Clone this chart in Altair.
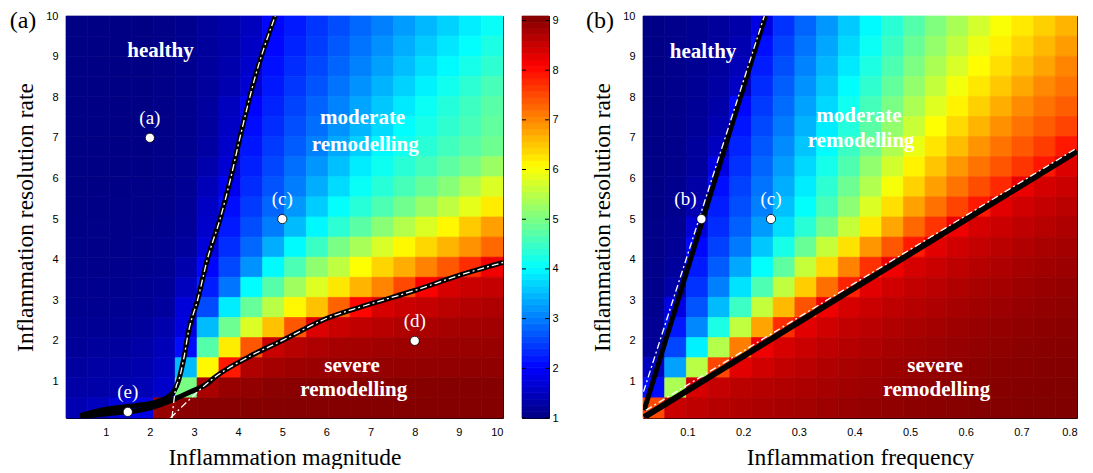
import altair as alt
import numpy as np
import pandas as pd

# ---------------- data ----------------
A_X_RANGE = [0.1, 10.0]
A_Y_RANGE = [0.1, 10.0]
B_X_RANGE = [0.02, 0.8]
B_Y_RANGE = [0.1, 10.0]

# panel (a): heat-map values, rows from top (y~9.75) to bottom (y~0.35), 20 columns x=0.1..10
a_rows = [
    [1.03,1.03,1.03,1.03,1.06,1.12,1.22,1.32,1.50,2.05,2.21,2.42,2.62,2.83,3.03,3.25,3.47,3.68,3.90,4.10],
    [1.03,1.03,1.03,1.03,1.06,1.12,1.22,1.32,1.55,2.06,2.28,2.49,2.71,2.92,3.15,3.38,3.61,3.84,4.05,4.25],
    [1.03,1.03,1.03,1.03,1.06,1.12,1.22,1.35,1.60,2.13,2.36,2.58,2.81,3.04,3.28,3.52,3.77,4.00,4.20,4.40],
    [1.03,1.03,1.03,1.03,1.06,1.12,1.22,1.38,1.65,2.20,2.44,2.68,2.92,3.17,3.43,3.68,3.93,4.17,4.38,4.60],
    [1.03,1.03,1.03,1.03,1.06,1.12,1.24,1.50,2.03,2.28,2.54,2.79,3.05,3.32,3.60,3.87,4.11,4.32,4.52,4.73],
    [1.03,1.03,1.03,1.03,1.06,1.12,1.25,1.55,2.10,2.36,2.63,2.89,3.17,3.46,3.75,4.03,4.22,4.41,4.60,4.80],
    [1.03,1.03,1.03,1.04,1.07,1.13,1.27,1.60,2.18,2.46,2.74,3.03,3.35,3.66,3.99,4.17,4.36,4.54,4.73,4.91],
    [1.03,1.03,1.04,1.05,1.08,1.14,1.35,1.65,2.26,2.56,2.88,3.20,3.54,3.89,4.14,4.35,4.56,4.77,4.98,5.26],
    [1.03,1.04,1.05,1.06,1.09,1.16,1.45,1.90,2.35,2.67,3.00,3.38,3.76,4.09,4.34,4.59,4.83,5.10,5.44,5.77],
    [1.04,1.05,1.06,1.07,1.10,1.18,1.55,2.11,2.47,2.82,3.22,3.64,4.05,4.34,4.64,4.93,5.23,5.54,5.85,6.20],
    [1.05,1.06,1.07,1.08,1.12,1.20,1.60,2.21,2.61,3.00,3.50,3.99,4.38,4.75,5.12,5.45,5.78,6.11,6.47,6.82],
    [1.06,1.07,1.08,1.10,1.14,1.25,1.70,2.37,2.83,3.38,4.00,4.49,4.99,5.37,5.75,6.10,6.37,6.64,6.92,7.25],
    [1.08,1.09,1.10,1.12,1.17,1.35,2.04,2.58,3.18,4.00,4.63,5.17,5.54,6.05,6.39,6.71,7.05,7.38,7.73,8.20],
    [1.10,1.11,1.12,1.15,1.20,1.50,2.24,2.94,4.02,4.71,5.30,5.79,6.24,6.65,7.03,7.50,8.10,8.40,8.50,8.55],
    [1.12,1.13,1.15,1.18,1.25,1.70,2.60,3.89,4.84,5.50,6.11,6.54,7.29,8.05,8.40,8.50,8.55,8.62,8.68,8.72],
    [1.15,1.16,1.18,1.22,1.35,1.75,3.50,4.90,5.77,6.54,7.40,8.35,8.50,8.58,8.64,8.70,8.75,8.78,8.80,8.83],
    [1.20,1.22,1.25,1.30,1.45,2.10,4.70,6.20,7.40,8.50,8.65,8.72,8.78,8.80,8.83,8.85,8.87,8.88,8.89,8.90],
    [1.25,1.28,1.30,1.35,1.50,3.50,6.10,7.90,8.70,8.80,8.85,8.88,8.90,8.91,8.92,8.93,8.94,8.95,8.96,8.96],
    [1.30,1.33,1.36,1.42,1.60,5.00,8.75,8.90,8.95,9.00,9.01,9.02,9.02,9.03,9.03,9.04,9.04,9.05,9.05,9.05],
    [1.40,1.50,1.70,1.80,8.90,9.00,9.02,9.03,9.04,9.05,9.05,9.05,9.06,9.06,9.06,9.06,9.06,9.06,9.06,9.06],
]

# panel (b): heat-map values, rows from top to bottom, 20 columns x=0.02..0.8
b_rows = [
    [1.05,1.10,1.15,1.22,1.32,1.80,2.41,2.81,3.22,3.61,4.00,4.35,4.70,5.05,5.38,5.70,6.02,6.22,6.43,6.64],
    [1.05,1.10,1.15,1.22,1.38,2.12,2.53,2.93,3.33,3.73,4.12,4.49,4.86,5.21,5.56,5.90,6.16,6.38,6.61,6.83],
    [1.05,1.10,1.15,1.25,1.45,2.23,2.64,3.05,3.46,3.87,4.26,4.64,5.02,5.39,5.75,6.07,6.31,6.54,6.78,7.02],
    [1.05,1.10,1.17,1.28,1.55,2.35,2.76,3.17,3.60,4.02,4.41,4.81,5.20,5.59,5.97,6.24,6.49,6.74,6.99,7.16],
    [1.05,1.10,1.18,1.32,2.06,2.46,2.87,3.30,3.73,4.15,4.57,4.99,5.40,5.80,6.15,6.43,6.70,6.97,7.16,7.33],
    [1.05,1.10,1.20,1.40,2.17,2.58,2.98,3.43,3.88,4.31,4.75,5.19,5.63,6.05,6.35,6.65,6.94,7.16,7.35,7.55],
    [1.05,1.10,1.22,1.50,2.29,2.69,3.11,3.57,4.03,4.49,4.94,5.42,5.90,6.26,6.58,6.91,7.16,7.38,7.60,7.90],
    [1.05,1.10,1.25,1.80,2.40,2.81,3.25,3.73,4.20,4.66,5.18,5.69,6.15,6.52,6.88,7.17,7.41,7.66,7.91,8.35],
    [1.05,1.12,1.30,2.12,2.52,2.92,3.39,3.88,4.39,4.90,5.44,5.99,6.41,6.82,7.17,7.47,7.76,8.25,8.42,8.50],
    [1.05,1.12,1.40,2.23,2.63,3.03,3.54,4.06,4.60,5.15,5.77,6.30,6.79,7.18,7.54,7.89,8.30,8.45,8.55,8.62],
    [1.06,1.15,1.70,2.36,2.77,3.24,3.78,4.35,4.93,5.60,6.23,6.76,7.25,7.67,8.20,8.40,8.50,8.60,8.65,8.72],
    [1.07,1.18,2.07,2.53,2.99,3.60,4.21,4.86,5.60,6.28,6.89,7.39,7.87,8.30,8.45,8.55,8.62,8.70,8.76,8.80],
    [1.08,1.22,2.22,2.74,3.35,4.05,4.78,5.60,6.36,7.04,7.69,8.20,8.40,8.50,8.60,8.66,8.72,8.78,8.83,8.87],
    [1.10,1.30,2.41,3.03,3.81,4.64,5.56,6.45,7.20,7.81,8.30,8.45,8.56,8.63,8.70,8.76,8.80,8.85,8.90,8.93],
    [1.12,1.80,2.68,3.50,4.50,5.59,6.60,7.42,8.20,8.40,8.50,8.60,8.66,8.72,8.78,8.83,8.87,8.91,8.94,8.97],
    [1.15,2.19,3.10,4.24,5.55,6.78,7.73,8.30,8.45,8.56,8.63,8.70,8.76,8.80,8.85,8.90,8.93,8.96,8.99,9.01],
    [1.20,2.56,3.92,5.46,7.09,8.20,8.40,8.50,8.60,8.66,8.72,8.78,8.83,8.87,8.91,8.94,8.97,9.00,9.02,9.04],
    [1.50,3.29,5.50,7.52,8.30,8.45,8.56,8.63,8.70,8.76,8.80,8.85,8.90,8.93,8.96,8.99,9.01,9.03,9.05,9.06],
    [2.10,5.40,8.40,8.55,8.62,8.66,8.70,8.74,8.78,8.83,8.87,8.91,8.94,8.97,9.00,9.02,9.04,9.06,9.07,9.08],
    [7.50,8.50,8.60,8.66,8.70,8.74,8.78,8.81,8.85,8.90,8.93,8.96,8.99,9.01,9.03,9.05,9.06,9.07,9.08,9.09],
]

# boundary curves, panel (a)
a_upper_x = [0.42, 0.80, 1.25, 1.78, 2.16, 2.38, 2.54, 2.65, 2.76, 2.88, 3.08, 3.30, 3.59, 3.83, 4.04, 4.38, 4.84]
a_upper_y = [0.16, 0.27, 0.35, 0.42, 0.50, 0.60, 0.75, 1.02, 1.52, 2.25, 3.00, 4.00, 5.00, 6.00, 7.00, 8.48, 10.0]
a_lower_x = [0.42, 1.00, 1.40, 1.71, 2.16, 2.54, 2.91, 3.29, 3.48, 4.23, 5.00, 6.00, 7.00, 8.00, 9.00, 10.0]
a_lower_y = [0.15, 0.20, 0.25, 0.28, 0.40, 0.56, 0.74, 0.94, 1.11, 1.60, 2.01, 2.55, 2.91, 3.24, 3.61, 3.93]
a_upper_approx_x = [2.50, 2.60, 2.65, 2.76, 2.88, 3.08, 3.30, 3.59, 3.83, 4.04, 4.38, 4.84]
a_upper_approx_y = [0.10, 0.90, 1.02, 1.52, 2.25, 3.00, 4.00, 5.00, 6.00, 7.00, 8.48, 10.0]
a_lower_approx_x = [2.47, 2.72, 3.48, 4.23, 5.00, 6.00, 7.00, 8.00, 9.00, 10.0]
a_lower_approx_y = [0.10, 0.37, 1.11, 1.60, 2.01, 2.55, 2.91, 3.24, 3.61, 3.93]

# boundary curves, panel (b)
b_upper_x = [0.022, 0.240]
b_upper_y = [0.29, 10.0]
b_lower_x = [0.022, 0.800]
b_lower_y = [0.12, 6.67]
b_upper_approx_x = [0.021, 0.238]
b_upper_approx_y = [0.75, 10.0]
b_lower_approx_x = [0.025, 0.800]
b_lower_approx_y = [0.29, 6.75]

# marked parameter points
a_pt_x = [2.0, 5.0, 8.0, 1.5]
a_pt_y = [7.0, 5.0, 2.0, 0.25]
a_pt_label = ["(a)", "(c)", "(d)", "(e)"]
b_pt_x = [0.125, 0.25]
b_pt_y = [5.0, 5.0]
b_pt_label = ["(b)", "(c)"]

# region names
a_reg_x = [2.24, 6.82, 6.88, 6.58, 6.62]
a_reg_y = [9.14, 7.49, 6.82, 1.38, 0.78]
b_reg_x = [0.128, 0.408, 0.412, 0.545, 0.548]
b_reg_y = [9.12, 7.54, 6.92, 1.38, 0.78]
reg_text = ["healthy", "moderate", "remodelling", "severe", "remodelling"]

a_xticks = [1, 2, 3, 4, 5, 6, 7, 8, 9, 10]
b_xticks = [0.1, 0.2, 0.3, 0.4, 0.5, 0.6, 0.7, 0.8]
yticks = [1, 2, 3, 4, 5, 6, 7, 8, 9, 10]
cbar_ticks = [1, 2, 3, 4, 5, 6, 7, 8, 9]
CBAR_RANGE = [1.0, 9.09]

# ---------------- styling ----------------
PW_A, PW_B, PH = 437, 434, 402
SERIF = "Liberation Serif"
SANS = "Liberation Sans"
YTITLE = "Inflammation resolution rate"

jet = alt.Scale(domain=[1.0, 2.011, 4.034, 6.056, 8.079, 9.09],
                range=["#000080", "#0000ff", "#00ffff", "#ffff00", "#ff0000", "#800000"],
                interpolate="rgb", clamp=True)


def grid_df(rows, xr, yr):
    nr, nc = len(rows), len(rows[0])
    xe = np.linspace(xr[0], xr[1], nc + 1)
    ye = np.linspace(yr[1], yr[0], nr + 1)
    recs = []
    for j, row in enumerate(rows):
        for i, v in enumerate(row):
            recs.append({"x0": xe[i], "x1": xe[i + 1], "y0": ye[j + 1], "y1": ye[j], "v": v})
    return pd.DataFrame(recs)


def panel(rows, xr, yr, xticks, xfmt, xtitle, ux, uy, lx, ly, uax, uay, lax, lay,
          px, py, plab, rx, ry, tag, width, lw_up, lw_lo, special_dx=None):
    xs_ = alt.Scale(domain=xr, nice=False, zero=False)
    ys_ = alt.Scale(domain=yr, nice=False, zero=False)
    xax = alt.Axis(values=xticks, format=xfmt, title=xtitle)
    yax = alt.Axis(values=yticks, format="d", title=YTITLE)

    def X(f):
        return alt.X(f, scale=xs_, axis=xax, title=xtitle)

    def Y(f):
        return alt.Y(f, scale=ys_, axis=yax, title=YTITLE)

    def line(xs, ys, color, w, dash=None):
        df = pd.DataFrame({"x": xs, "y": ys, "k": list(range(len(xs)))})
        kw = dict(color=color, strokeWidth=w, clip=True, interpolate="monotone")
        if dash is not None:
            kw["strokeDash"] = dash
        return alt.Chart(df).mark_line(**kw).encode(x=X("x:Q"), y=Y("y:Q"), order="k:Q")

    heat = alt.Chart(grid_df(rows, xr, yr)).mark_rect(strokeWidth=0.7).encode(
        x=X("x0:Q"), x2="x1:Q", y=Y("y0:Q"), y2="y1:Q",
        color=alt.Color("v:Q", scale=jet, legend=None),
        stroke=alt.Stroke("v:Q", scale=jet, legend=None),
    )
    dd = [7, 3, 2, 3]
    layers = [
        heat,
        line(ux, uy, "black", lw_up),
        line(lx, ly, "black", lw_lo),
        line(uax, uay, "white", 1.3, dd),
        line(lax, lay, "white", 1.3, dd),
    ]
    pdf = pd.DataFrame({"x": px, "y": py, "t": plab})
    layers.append(alt.Chart(pdf).mark_circle(color="white", stroke="black", strokeWidth=0.8,
                                             size=85, opacity=1).encode(x=X("x:Q"), y=Y("y:Q")))
    for idx in range(len(plab)):
        dx = special_dx.get(plab[idx], 0) if special_dx else 0
        sub = pdf.iloc[[idx]]
        layers.append(alt.Chart(sub).mark_text(font=SERIF, fontSize=19, color="white",
                                               dy=-20, dx=dx, baseline="middle").encode(
            x=X("x:Q"), y=Y("y:Q"), text="t:N"))
    rdf = pd.DataFrame({"x": rx, "y": ry, "t": reg_text})
    layers.append(alt.Chart(rdf).mark_text(font=SERIF, fontSize=21, fontWeight="bold",
                                           color="white", baseline="middle").encode(
        x=X("x:Q"), y=Y("y:Q"), text="t:N"))
    tdf = pd.DataFrame({"t": [tag]})
    layers.append(alt.Chart(tdf).mark_text(font=SERIF, fontSize=24, color="black",
                                           baseline="middle", align="center").encode(
        x=alt.value(-43), y=alt.value(5), text="t:N"))
    return alt.layer(*layers).properties(width=width, height=PH)


panel_a = panel(a_rows, A_X_RANGE, A_Y_RANGE, a_xticks, "d", "Inflammation magnitude",
                a_upper_x, a_upper_y, a_lower_x, a_lower_y,
                a_upper_approx_x, a_upper_approx_y, a_lower_approx_x, a_lower_approx_y,
                a_pt_x, a_pt_y, a_pt_label, a_reg_x, a_reg_y, "(a)", PW_A, 5, 5)

panel_b = panel(b_rows, B_X_RANGE, B_Y_RANGE, b_xticks, ".1f", "Inflammation frequency",
                b_upper_x, b_upper_y, b_lower_x, b_lower_y,
                b_upper_approx_x, b_upper_approx_y, b_lower_approx_x, b_lower_approx_y,
                b_pt_x, b_pt_y, b_pt_label, b_reg_x, b_reg_y, "(b)", PW_B, 5, 6,
                special_dx={"(b)": -16})

# colour bar (64 steps like the original colormap)
lv = np.linspace(CBAR_RANGE[0], CBAR_RANGE[1], 65)
cb_df = pd.DataFrame({"lo": lv[:-1], "hi": lv[1:], "mid": (lv[:-1] + lv[1:]) / 2})
cb_scale = alt.Scale(domain=CBAR_RANGE, nice=False, zero=False)
cb_axis = alt.Axis(orient="right", values=cbar_ticks, format="d", title=None, labelPadding=3,
                   minExtent=18)
cb_rect = alt.Chart(cb_df).mark_rect(strokeWidth=0.7).encode(
    y=alt.Y("lo:Q", scale=cb_scale, axis=cb_axis, title=None),
    y2="hi:Q",
    color=alt.Color("mid:Q", scale=jet, legend=None),
    stroke=alt.Stroke("mid:Q", scale=jet, legend=None),
)
tk_df = pd.DataFrame({"t": cbar_ticks})
cb_tk1 = alt.Chart(tk_df).mark_rule(color="black", strokeWidth=1).encode(
    y=alt.Y("t:Q", scale=cb_scale, axis=cb_axis, title=None), x=alt.value(0), x2=alt.value(4))
cb_tk2 = alt.Chart(tk_df).mark_rule(color="black", strokeWidth=1).encode(
    y=alt.Y("t:Q", scale=cb_scale, axis=cb_axis, title=None), x=alt.value(23), x2=alt.value(27))
colorbar = alt.layer(cb_rect, cb_tk1, cb_tk2).properties(width=27, height=PH)

chart = alt.hconcat(panel_a, colorbar, panel_b, spacing=17).properties(
    padding={"left": 9, "top": 8, "right": 5, "bottom": 0}
).configure_view(stroke="black", strokeWidth=1).configure_axis(
    labelFont=SANS, labelFontSize=11, labelColor="black",
    titleFont=SERIF, titleFontSize=23.5, titleFontWeight="normal", titleColor="black",
    ticks=False, domain=False, grid=False, labelPadding=8, titlePadding=8,
)

chart.save("out.html", embed_options={"renderer": "svg", "actions": False})
